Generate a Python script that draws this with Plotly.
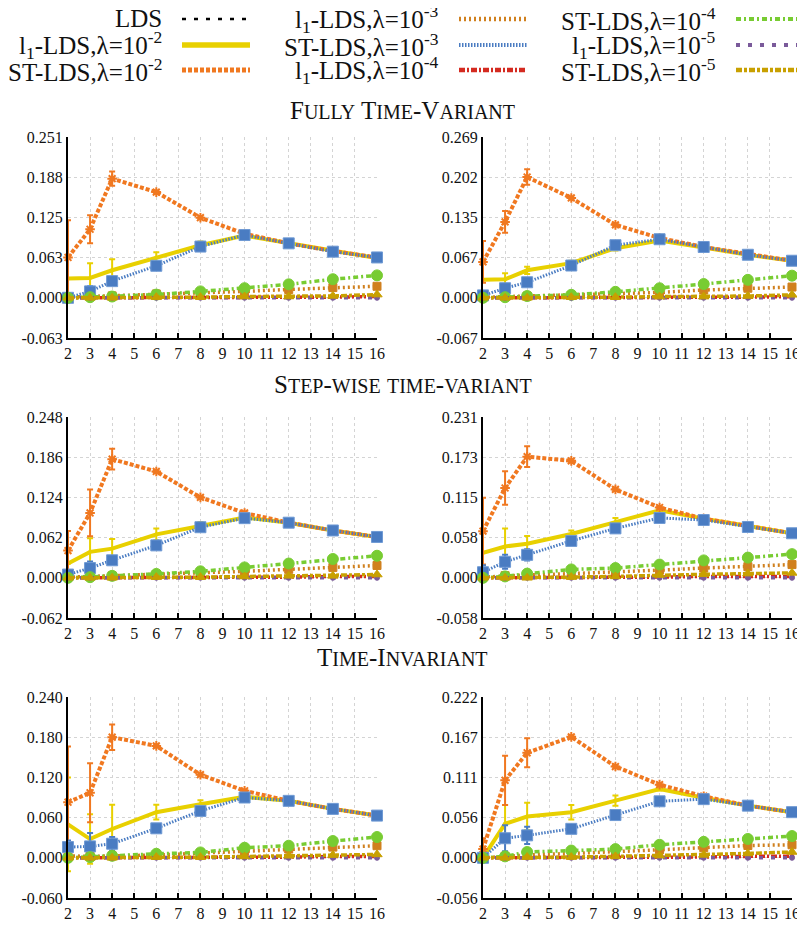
import plotly.graph_objects as go

# the page has an 8px body margin; the figure starts at (8, 8) in the window
PAGE_W, PAGE_H, OFF = 805, 925, 8
W, H = PAGE_W - OFF, PAGE_H - OFF
FONT = "Liberation Serif"

# ---------------- data ----------------
x_vals = [2, 3, 4, 6, 8, 10, 12, 14, 16]
x_ticks = list(range(2, 17))

panel_titles = ["Fully Time-Variant", "Step-wise time-variant", "Time-Invariant"]
panel_max = [0.251, 0.269, 0.248, 0.231, 0.240, 0.222]
tick_text = [
    ["-0.063", "0.000", "0.063", "0.125", "0.188", "0.251"],
    ["-0.067", "0.000", "0.067", "0.135", "0.202", "0.269"],
    ["-0.062", "0.000", "0.062", "0.124", "0.186", "0.248"],
    ["-0.058", "0.000", "0.058", "0.115", "0.173", "0.231"],
    ["-0.060", "0.000", "0.060", "0.120", "0.180", "0.240"],
    ["-0.056", "0.000", "0.056", "0.111", "0.167", "0.222"],
]

lds = [
    [0.000, 0.000, 0.000, 0.000, 0.000, 0.000, 0.000, 0.000, 0.000],
    [0.000, 0.000, 0.000, 0.000, 0.000, 0.000, 0.000, 0.000, 0.000],
    [0.000, 0.000, 0.000, 0.000, 0.000, 0.000, 0.000, 0.000, 0.000],
    [0.000, 0.000, 0.000, 0.000, 0.000, 0.000, 0.000, 0.000, 0.000],
    [0.000, 0.000, 0.000, 0.000, 0.000, 0.000, 0.000, 0.000, 0.000],
    [0.000, 0.000, 0.000, 0.000, 0.000, 0.000, 0.000, 0.000, 0.000],
]
l1_e2 = [
    [0.030, 0.031, 0.043, 0.063, 0.082, 0.097, 0.085, 0.073, 0.062],
    [0.030, 0.031, 0.046, 0.058, 0.083, 0.096, 0.084, 0.072, 0.062],
    [0.022, 0.040, 0.045, 0.067, 0.080, 0.093, 0.085, 0.073, 0.063],
    [0.036, 0.045, 0.049, 0.063, 0.080, 0.097, 0.085, 0.074, 0.064],
    [0.050, 0.028, 0.043, 0.068, 0.080, 0.091, 0.085, 0.073, 0.063],
    [0.000, 0.047, 0.057, 0.063, 0.079, 0.095, 0.083, 0.072, 0.063],
]
l1_e2_err = [
    [0.000, 0.023, 0.017, 0.008, 0.006, 0.002, 0.001, 0.001, 0.001],
    [0.000, 0.010, 0.006, 0.004, 0.004, 0.002, 0.001, 0.001, 0.001],
    [0.000, 0.021, 0.015, 0.009, 0.006, 0.002, 0.001, 0.001, 0.001],
    [0.000, 0.026, 0.011, 0.005, 0.006, 0.002, 0.001, 0.001, 0.001],
    [0.070, 0.037, 0.036, 0.011, 0.006, 0.002, 0.001, 0.001, 0.001],
    [0.000, 0.026, 0.019, 0.010, 0.007, 0.002, 0.001, 0.001, 0.001],
]
st_e2 = [
    [0.063, 0.107, 0.186, 0.165, 0.125, 0.100, 0.085, 0.073, 0.063],
    [0.060, 0.127, 0.202, 0.167, 0.122, 0.100, 0.085, 0.073, 0.062],
    [0.042, 0.100, 0.183, 0.164, 0.124, 0.100, 0.085, 0.073, 0.063],
    [0.067, 0.129, 0.174, 0.168, 0.127, 0.101, 0.085, 0.074, 0.064],
    [0.083, 0.097, 0.180, 0.167, 0.124, 0.100, 0.085, 0.073, 0.063],
    [0.012, 0.107, 0.145, 0.167, 0.126, 0.101, 0.085, 0.072, 0.063],
]
st_e2_err = [
    [0.058, 0.022, 0.011, 0.002, 0.002, 0.001, 0.001, 0.001, 0.001],
    [0.035, 0.018, 0.013, 0.002, 0.002, 0.001, 0.001, 0.001, 0.001],
    [0.030, 0.036, 0.016, 0.002, 0.002, 0.001, 0.001, 0.001, 0.001],
    [0.048, 0.024, 0.015, 0.002, 0.002, 0.001, 0.001, 0.001, 0.001],
    [0.083, 0.044, 0.019, 0.002, 0.002, 0.001, 0.001, 0.001, 0.001],
    [0.015, 0.034, 0.020, 0.002, 0.002, 0.001, 0.001, 0.001, 0.001],
]
l1_e3 = [
    [0.001, 0.002, 0.003, 0.006, 0.007, 0.010, 0.013, 0.016, 0.018],
    [0.001, 0.002, 0.003, 0.004, 0.006, 0.009, 0.013, 0.016, 0.018],
    [0.001, 0.002, 0.003, 0.005, 0.007, 0.010, 0.013, 0.016, 0.019],
    [0.001, 0.003, 0.004, 0.006, 0.008, 0.011, 0.014, 0.016, 0.019],
    [0.003, 0.002, 0.003, 0.004, 0.007, 0.010, 0.013, 0.016, 0.018],
    [0.000, 0.002, 0.004, 0.006, 0.008, 0.011, 0.014, 0.017, 0.018],
]
st_e3 = [
    [0.000, 0.010, 0.026, 0.050, 0.080, 0.098, 0.085, 0.072, 0.063],
    [0.004, 0.016, 0.026, 0.054, 0.088, 0.098, 0.085, 0.072, 0.062],
    [0.005, 0.015, 0.027, 0.050, 0.078, 0.092, 0.085, 0.073, 0.063],
    [0.008, 0.023, 0.033, 0.053, 0.071, 0.086, 0.083, 0.073, 0.064],
    [0.016, 0.017, 0.021, 0.044, 0.070, 0.090, 0.085, 0.073, 0.063],
    [0.000, 0.027, 0.031, 0.040, 0.059, 0.078, 0.081, 0.072, 0.063],
]
st_e3_err = [
    [0.002, 0.008, 0.004, 0.005, 0.003, 0.002, 0.001, 0.001, 0.001],
    [0.002, 0.004, 0.004, 0.003, 0.003, 0.002, 0.001, 0.001, 0.001],
    [0.004, 0.010, 0.005, 0.004, 0.003, 0.002, 0.001, 0.001, 0.001],
    [0.010, 0.010, 0.008, 0.004, 0.003, 0.002, 0.001, 0.001, 0.001],
    [0.010, 0.020, 0.010, 0.005, 0.003, 0.002, 0.001, 0.001, 0.001],
    [0.003, 0.018, 0.012, 0.005, 0.004, 0.002, 0.001, 0.001, 0.001],
]
l1_e4 = [
    [0.000, 0.000, 0.001, 0.001, 0.001, 0.001, 0.001, 0.001, 0.002],
    [0.000, 0.000, 0.001, 0.001, 0.001, 0.001, 0.001, 0.001, 0.002],
    [0.000, 0.000, 0.001, 0.001, 0.001, 0.001, 0.001, 0.002, 0.002],
    [0.000, 0.000, 0.001, 0.001, 0.001, 0.001, 0.002, 0.002, 0.002],
    [0.000, 0.000, 0.001, 0.001, 0.001, 0.001, 0.001, 0.002, 0.002],
    [0.000, 0.000, 0.001, 0.001, 0.001, 0.001, 0.001, 0.002, 0.002],
]
st_e4 = [
    [0.000, 0.001, 0.002, 0.005, 0.010, 0.015, 0.021, 0.029, 0.035],
    [0.000, 0.001, 0.003, 0.005, 0.010, 0.016, 0.023, 0.030, 0.037],
    [0.000, 0.001, 0.003, 0.006, 0.010, 0.016, 0.022, 0.029, 0.034],
    [0.000, 0.002, 0.006, 0.012, 0.014, 0.019, 0.025, 0.029, 0.034],
    [0.000, 0.001, 0.003, 0.006, 0.008, 0.015, 0.018, 0.025, 0.031],
    [0.000, 0.002, 0.008, 0.010, 0.012, 0.018, 0.022, 0.026, 0.030],
]
l1_e5 = [
    [0.000, 0.000, 0.000, 0.000, 0.000, 0.000, 0.000, 0.000, 0.000],
    [0.000, 0.000, 0.000, 0.000, 0.000, 0.000, 0.000, 0.000, 0.000],
    [0.000, 0.000, 0.000, 0.000, 0.000, 0.000, 0.000, 0.000, 0.000],
    [0.000, 0.000, 0.000, 0.000, 0.000, 0.000, 0.000, 0.000, 0.000],
    [0.000, 0.000, 0.000, 0.000, 0.000, 0.000, 0.000, 0.000, 0.000],
    [0.000, 0.000, 0.000, 0.000, 0.000, 0.000, 0.000, 0.000, 0.000],
]
st_e5 = [
    [0.000, 0.000, 0.000, 0.001, 0.001, 0.002, 0.002, 0.003, 0.005],
    [0.000, 0.000, 0.000, 0.001, 0.001, 0.002, 0.002, 0.003, 0.005],
    [0.000, 0.000, 0.000, 0.001, 0.001, 0.002, 0.003, 0.003, 0.005],
    [0.000, 0.000, 0.000, 0.001, 0.002, 0.004, 0.005, 0.006, 0.007],
    [0.000, 0.000, 0.000, 0.001, 0.001, 0.002, 0.003, 0.004, 0.005],
    [0.000, 0.000, 0.001, 0.001, 0.002, 0.003, 0.004, 0.006, 0.008],
]

legend_labels = [
    "LDS",
    "l<sub>1</sub>-LDS,λ=10<sup>-2</sup>",
    "ST-LDS,λ=10<sup>-2</sup>",
    "l<sub>1</sub>-LDS,λ=10<sup>-3</sup>",
    "ST-LDS,λ=10<sup>-3</sup>",
    "l<sub>1</sub>-LDS,λ=10<sup>-4</sup>",
    "ST-LDS,λ=10<sup>-4</sup>",
    "l<sub>1</sub>-LDS,λ=10<sup>-5</sup>",
    "ST-LDS,λ=10<sup>-5</sup>",
]

# ---------------- styles ----------------
series = [
    # values, errors, color, dash, width, marker symbol, marker size, legend width
    (lds,   None,      "#000000", "4px,8px",          2.5, "circle",       0, 2.5),
    (l1_e2, l1_e2_err, "#e8d000", "solid",            4.0, "circle",       3, 5.5),
    (st_e2, st_e2_err, "#f07820", "4px,2px",          4.0, "asterisk",     8, 5.0),
    (l1_e3, None,      "#d0801e", "2px,3px",          3.5, "square",       8, 4.5),
    (st_e3, st_e3_err, "#4a7cc2", "1.5px,1.5px",      3.0, "square",      11, 4.0),
    (l1_e4, None,      "#d42a20", "6px,2px,2px,2px",  3.5, "circle",       4, 4.5),
    (st_e4, None,      "#78cc32", "5px,3px,2px,3px",  3.5, "circle",      11, 4.0),
    (l1_e5, None,      "#7a5a9a", "4px,8px",          3.5, "circle",       5, 4.0),
    (st_e5, None,      "#c8a000", "6px,2px,3px,2px",  3.5, "triangle-up",  9, 4.5),
]

# panel geometry in window pixels (left, right, top, bottom)
cols_px = [(68, 377), (483, 792)]
rows_px = [(137, 338), (417, 618), (697, 898)]
title_y_px = [110, 384, 657]


def px_x(v):
    return (v - OFF) / W


def px_y(v):
    return 1 - (v - OFF) / H


fig = go.Figure()
layout = {}

for p in range(6):
    r, c = divmod(p, 2)
    ax = "" if p == 0 else str(p + 1)
    m = panel_max[p]
    for vals, errs, color, dash, width, sym, msize, _ in series:
        kw = {}
        if errs is not None:
            kw["error_y"] = dict(type="data", array=errs[p], color=color,
                                 thickness=2, width=3)
        edge = "#6f9ad4" if sym == "square" and msize > 10 else color
        mk = dict(symbol=sym, size=msize, color=color,
                  line=dict(width=2 if sym == "asterisk" else 1, color=edge))
        fig.add_trace(go.Scatter(
            x=x_vals, y=vals[p], mode="lines+markers" if msize else "lines",
            line=dict(color=color, dash=dash, width=width),
            marker=mk,
            xaxis="x" + ax, yaxis="y" + ax, showlegend=False,
            cliponaxis=False, hoverinfo="skip", **kw))
    tv = [-m / 4, 0, m / 4, m / 2, 3 * m / 4, m]
    layout["xaxis" + ax] = dict(
        domain=[px_x(cols_px[c][0]), px_x(cols_px[c][1])],
        anchor="y" + ax, range=[2, 16], tickvals=x_ticks,
        ticktext=[str(t) for t in x_ticks], automargin=False,
        ticklabeloverflow="allow",
        ticks="inside", ticklen=5, tickwidth=1.5, tickcolor="#000",
        showline=True, linecolor="#000", linewidth=2,
        showgrid=True, gridcolor="#d4d4d4", griddash="dot", gridwidth=1,
        zeroline=False, tickfont=dict(family=FONT, size=16, color="#111"))
    layout["yaxis" + ax] = dict(
        domain=[px_y(rows_px[r][1]), px_y(rows_px[r][0])],
        anchor="x" + ax, range=[-m / 4, m], tickvals=tv, ticktext=tick_text[p],
        ticks="", showline=True, linecolor="#000", linewidth=2, automargin=False,
        ticklabeloverflow="allow",
        showgrid=True, gridcolor="#d4d4d4", griddash="dot", gridwidth=1,
        zeroline=False, tickfont=dict(family=FONT, size=16, color="#111"))


def small_caps(text, big=25, small=20):
    out = []
    word_start = True
    for ch in text:
        if ch in " -":
            out.append(ch)
            word_start = True
            continue
        if word_start and ch.isupper():
            out.append(f'<span style="font-size:{big}px">{ch}</span>')
        else:
            out.append(f'<span style="font-size:{small}px">{ch.upper()}</span>')
        word_start = False
    return "".join(out)


annotations = []
for r in range(3):
    annotations.append(dict(
        text=small_caps(panel_titles[r]), x=px_x(PAGE_W / 2), y=px_y(title_y_px[r]),
        xref="paper", yref="paper", showarrow=False,
        xanchor="center", yanchor="middle",
        font=dict(family=FONT, size=25, color="#111")))

# manual legend (text to the left of the line sample)
leg_text_right = [164, 441, 718]
leg_rows = [19, 45, 70]
shapes = []
for i, (vals, errs, color, dash, width, sym, msize, lw) in enumerate(series):
    c, r = divmod(i, 3)
    xr = leg_text_right[c]
    yc = leg_rows[r]
    annotations.append(dict(
        text=legend_labels[i], x=px_x(xr), y=px_y(yc), xref="paper",
        yref="paper", showarrow=False, xanchor="right", yanchor="middle",
        font=dict(family=FONT, size=25, color="#111")))
    shapes.append(dict(
        type="line", xref="paper", yref="paper",
        x0=px_x(xr + 18), x1=px_x(xr + 86), y0=px_y(yc), y1=px_y(yc),
        line=dict(color=color, dash=dash, width=lw)))

fig.update_layout(
    width=W, height=H, margin=dict(l=0, r=0, t=0, b=0, autoexpand=False),
    paper_bgcolor="white", plot_bgcolor="white",
    annotations=annotations, shapes=shapes, showlegend=False,
    **layout)

fig.write_html("out.html")
